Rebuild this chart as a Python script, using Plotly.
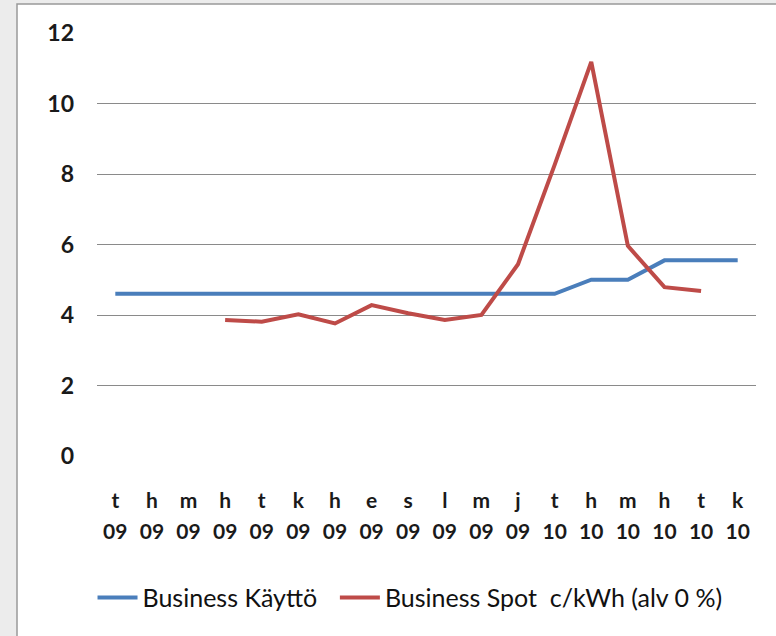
import plotly.graph_objects as go

months = ["t", "h", "m", "h", "t", "k", "h", "e", "s", "l", "m", "j", "t", "h", "m", "h", "t", "k"]
years = ["09"] * 12 + ["10"] * 6
kaytto = [4.6, 4.6, 4.6, 4.6, 4.6, 4.6, 4.6, 4.6, 4.6, 4.6, 4.6, 4.6, 4.6, 5.0, 5.0, 5.55, 5.55, 5.55]
spot = [None, None, None, 3.86, 3.81, 4.02, 3.76, 4.28, 4.05, 3.86, 4.0, 5.44, 8.26, 11.18, 5.96, 4.79, 4.68, None]
y_ticks = [0, 2, 4, 6, 8, 10, 12]

x = list(range(len(months)))

fig = go.Figure()
fig.add_trace(go.Scatter(x=x, y=kaytto, mode="lines", name="Business Käyttö\u00a0\u00a0",
                         line=dict(color="#4A7EBB", width=4), xaxis="x", yaxis="y"))
fig.add_trace(go.Scatter(x=x, y=spot, mode="lines", name="Business Spot\u00a0 c/kWh (alv 0 %)",
                         line=dict(color="#BE4B48", width=4), xaxis="x2", yaxis="y"))

W, H = 776, 636
L, R, T, B = 97, 20, 33, 180
pw, ph = W - L - R, H - T - B

tickfont = dict(family="Lato, Open Sans, sans-serif", size=21, color="#1a1a1a", weight="bold")

fig.update_layout(
    width=W, height=H,
    margin=dict(l=L, r=R, t=T, b=B, autoexpand=False),
    paper_bgcolor="#ececec",
    plot_bgcolor="white",
    showlegend=True,
    legend=dict(orientation="h", x=0.475, xanchor="center", y=-0.335, yanchor="middle",
                font=dict(family="Lato, Open Sans, sans-serif", size=25, color="#111111"),
                bgcolor="rgba(0,0,0,0)", itemwidth=40),
    xaxis=dict(range=[-0.5, 17.5], tickmode="array", tickvals=x, ticktext=months,
               showgrid=False, zeroline=False, showline=False, ticks="",
               tickfont=tickfont, ticklabelstandoff=30),
    xaxis2=dict(range=[-0.5, 17.5], tickmode="array", tickvals=x, ticktext=years,
                overlaying="x", side="bottom", anchor="y",
                showgrid=False, zeroline=False, showline=False, ticks="",
                tickfont=tickfont, ticklabelstandoff=61),
    yaxis=dict(range=[0, 12], tickmode="array", tickvals=y_ticks,
               showgrid=True, gridcolor="#8a8a8a", gridwidth=1,
               zeroline=False, showline=False, ticks="",
               tickfont=dict(family="Lato, Open Sans, sans-serif", size=23, color="#1a1a1a", weight="bold"),
               ticklabelstandoff=22),
    shapes=[dict(type="rect", xref="paper", yref="paper", layer="below",
                 x0=(17 - L) / pw, x1=(W + 20 - L) / pw,
                 y0=-(H + 20 - T - ph) / ph, y1=(T + ph - 4) / ph,
                 fillcolor="white", line=dict(color="#999999", width=1.5))],
)

fig.write_html("out.html", config={"displayModeBar": False},
               post_script="document.body.style.margin='0px';")
